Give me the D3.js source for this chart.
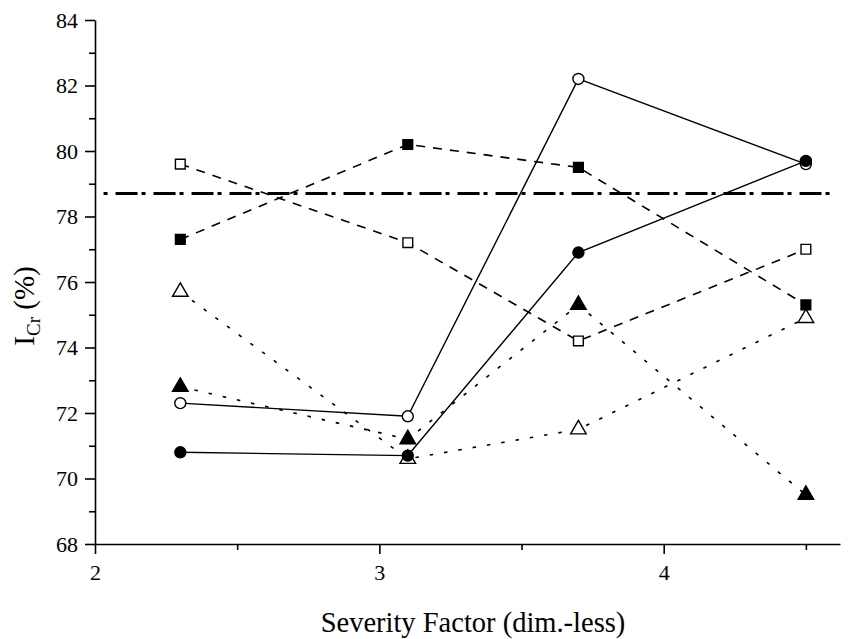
<!DOCTYPE html>
<html><head><meta charset="utf-8">
<script src="https://cdn.jsdelivr.net/npm/d3@7"></script>
<style>
html,body{margin:0;padding:0;background:#fff;}
svg{display:block;}
text{font-family:"Liberation Serif","Times New Roman",serif;}
</style></head>
<body>
<svg id="chart" width="853" height="639"></svg>
<script>
// ---- data ----
const severity = [2.3, 3.1, 3.7, 4.5];
const openCircle   = [72.3, 71.9, 82.2, 79.6];
const filledCircle = [70.8, 70.7, 76.9, 79.7];
const filledSquare = [77.3, 80.2, 79.5, 75.3];
const openSquare   = [79.6, 77.2, 74.2, 77.0];
const filledTri    = [72.8, 71.2, 75.3, 69.5];
const openTri      = [75.7, 70.6, 71.5, 74.9];
const refValue = 78.7;
const refSpan = [2.03, 4.61];
const xTicks = [2, 3, 4];
const xMinor = [2.5, 3.5, 4.5];
const yTicks = [68, 70, 72, 74, 76, 78, 80, 82, 84];
const yMinor = [69, 71, 73, 75, 77, 79, 81, 83];
const xTitle = "Severity Factor (dim.-less)";

const series = [
  {values: filledSquare, shape: "square", fill: "#000", dash: "9,8"},
  {values: openSquare,   shape: "square", fill: "#fff", dash: "9,8"},
  {values: filledTri,    shape: "triangle", fill: "#000", dash: "3.5,11"},
  {values: openTri,      shape: "triangle", fill: "#fff", dash: "3.5,11"},
  {values: openCircle,   shape: "circle", fill: "#fff", dash: null},
  {values: filledCircle, shape: "circle", fill: "#000", dash: null}
];

const svg = d3.select("#chart");
const serif = '"Liberation Serif","Times New Roman",serif';

const x = d3.scaleLinear().domain([2, 4.62]).range([95, 840]);
const y = d3.scaleLinear().domain([68, 84]).range([544, 20]);

// axes
const gx = svg.append("g").attr("transform", `translate(0,${y(68)})`)
  .call(d3.axisBottom(x).tickValues(xTicks).tickFormat(d3.format("d")).tickSize(10).tickPadding(10).tickSizeOuter(0));
const gxm = svg.append("g").attr("transform", `translate(0,${y(68)})`)
  .call(d3.axisBottom(x).tickValues(xMinor).tickFormat("").tickSize(6).tickSizeOuter(0));
const gy = svg.append("g").attr("transform", `translate(${x(2)},0)`)
  .call(d3.axisLeft(y).tickValues(yTicks).tickFormat(d3.format("d")).tickSize(10).tickPadding(7).tickSizeOuter(0));
const gym = svg.append("g").attr("transform", `translate(${x(2)},0)`)
  .call(d3.axisLeft(y).tickValues(yMinor).tickFormat("").tickSize(6).tickSizeOuter(0));
[gx, gxm, gy, gym].forEach(g => {
  g.attr("font-family", serif).attr("font-size", 22);
  g.selectAll("path.domain").attr("stroke", "#000").attr("stroke-width", 1.6);
  g.selectAll(".tick line").attr("stroke", "#000").attr("stroke-width", 1.6);
  g.selectAll("text").style("font-size", "22px").style("font-family", serif).attr("fill", "#000");
});
gxm.select("path.domain").remove();
gym.select("path.domain").remove();

// axis titles
svg.append("text").attr("x", 473).attr("y", 632).attr("text-anchor", "middle")
  .style("font-size", "28.5px").attr("fill", "#000").text(xTitle);
const yt = svg.append("text").attr("transform", "translate(34,306) rotate(-90)")
  .attr("text-anchor", "middle").style("font-size", "29px").attr("fill", "#000");
yt.append("tspan").text("I");
yt.append("tspan").style("font-size", "19px").attr("dy", 6).text("Cr");
yt.append("tspan").attr("dy", -6).text(" (%)");

// reference dash-dot line
svg.append("line")
  .attr("x1", x(refSpan[0])).attr("x2", x(refSpan[1]))
  .attr("y1", y(refValue)).attr("y2", y(refValue))
  .attr("stroke", "#000").attr("stroke-width", 3)
  .attr("stroke-dasharray", "4,8,22,4");

// series lines
const line = d3.line().x((d, i) => x(severity[i])).y(d => y(d));
series.forEach(s => {
  svg.append("path").datum(s.values)
    .attr("d", line).attr("fill", "none").attr("stroke", "#000")
    .attr("stroke-width", s.dash ? 1.6 : 1.4)
    .attr("stroke-dasharray", s.dash);
});

// markers
const sym = {
  circle: d3.symbol().type(d3.symbolCircle).size(95),
  square: d3.symbol().type(d3.symbolSquare).size(95),
  triangle: d3.symbol().type(d3.symbolTriangle).size(105)
};
series.forEach(s => {
  svg.append("g").selectAll("path").data(s.values).join("path")
    .attr("transform", (d, i) => `translate(${x(severity[i])},${y(d)})`)
    .attr("d", sym[s.shape])
    .attr("fill", s.fill).attr("stroke", "#000").attr("stroke-width", 1.4);
});
</script>
</body></html>
